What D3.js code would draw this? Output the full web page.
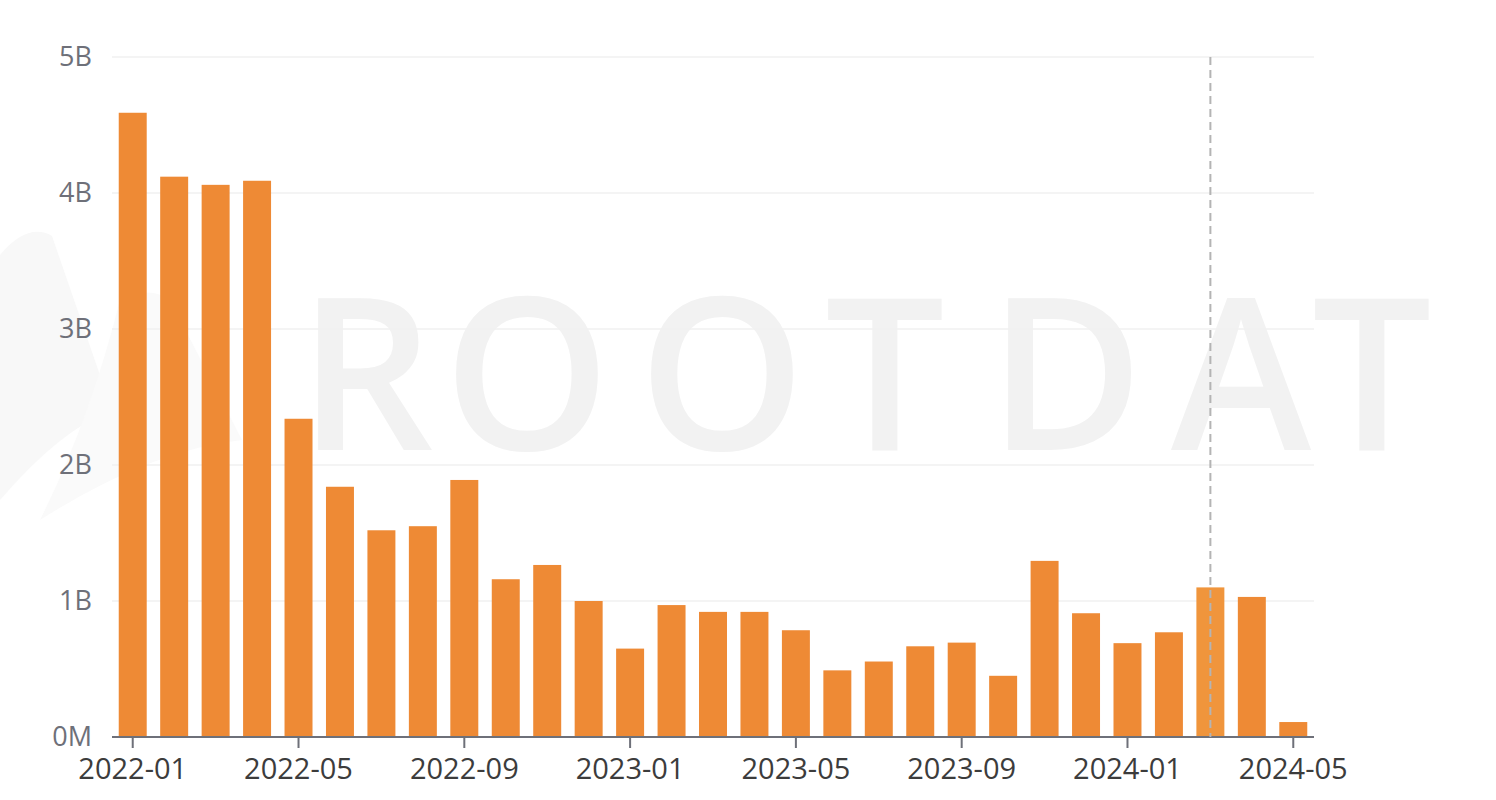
<!DOCTYPE html>
<html>
<head>
<meta charset="utf-8">
<script src="https://cdn.jsdelivr.net/npm/d3@7"></script>
<style>
  html, body { margin: 0; padding: 0; background: #ffffff; }
  svg { display: block; }
</style>
</head>
<body>
<svg id="chart" width="1496" height="800"></svg>
<script>
// ---- data ----
const months = [
  "2022-01","2022-02","2022-03","2022-04","2022-05","2022-06","2022-07","2022-08","2022-09","2022-10","2022-11","2022-12",
  "2023-01","2023-02","2023-03","2023-04","2023-05","2023-06","2023-07","2023-08","2023-09","2023-10","2023-11","2023-12",
  "2024-01","2024-02","2024-03","2024-04","2024-05"
];
const values = [
  4.59e9, 4.12e9, 4.06e9, 4.09e9, 2.34e9, 1.84e9, 1.52e9, 1.55e9, 1.89e9, 1.16e9, 1.265e9, 1.0e9,
  0.65e9, 0.97e9, 0.92e9, 0.92e9, 0.785e9, 0.49e9, 0.555e9, 0.667e9, 0.694e9, 0.45e9, 1.295e9, 0.91e9,
  0.69e9, 0.77e9, 1.10e9, 1.03e9, 0.11e9
];
const yTicks = [0, 1e9, 2e9, 3e9, 4e9, 5e9];
const xTickLabels = ["2022-01","2022-05","2022-09","2023-01","2023-05","2023-09","2024-01","2024-05"];
const highlighted = "2024-03";
const watermarkText = "ROOTDAT";

(function () {
// ---- layout ----
const svg = d3.select("#chart");
const pLeft = 112, pRight = 1314, pTop = 57, pBottom = 737;

const x = d3.scaleBand().domain(months).range([pLeft, pRight]).paddingInner(0.325).paddingOuter(0.1625);
const y = d3.scaleLinear().domain([0, 5e9]).range([pBottom, pTop]);

// watermark logo (faint)
const wm = svg.append("g");
wm.append("path")
  .attr("d", "M0,500 L0,255 Q28,222 52,236 L112,410 Q60,430 0,500 Z")
  .attr("fill", "#f8f8f8");
wm.append("path")
  .attr("d", "M120,300 Q150,285 170,300 L242,440 Q150,450 40,520 Q90,420 120,300 Z")
  .attr("fill", "#fafafa");
// watermark text
const letterCenters = [366, 527, 722, 885, 1066, 1241, 1372];
wm.append("text")
  .attr("x", letterCenters.join(" "))
  .attr("y", 450)
  .attr("text-anchor", "middle")
  .attr("font-family", "'Open Sans', sans-serif")
  .attr("font-weight", 600)
  .attr("font-size", 212)
  .attr("fill", "#f2f2f2")
  .text(watermarkText);

// gridlines
svg.append("g").selectAll("line").data(yTicks.slice(1)).join("line")
  .attr("x1", pLeft).attr("x2", pRight)
  .attr("y1", d => y(d)).attr("y2", d => y(d))
  .attr("stroke", "#f1f1f1").attr("stroke-width", 1.5);

// y labels
svg.append("g").selectAll("text").data(yTicks).join("text")
  .attr("x", 92).attr("y", d => y(d))
  .attr("dy", "0.35em")
  .attr("text-anchor", "end")
  .attr("font-family", "'Open Sans', sans-serif")
  .attr("font-size", 27)
  .attr("fill", "#6e7079")
  .text(d => d === 0 ? "0M" : (d / 1e9) + "B");

// bars
svg.append("g").selectAll("rect").data(months).join("rect")
  .attr("x", d => x(d))
  .attr("width", x.bandwidth())
  .attr("y", (d, i) => y(values[i]))
  .attr("height", (d, i) => y(0) - y(values[i]))
  .attr("fill", d => d === highlighted ? "#f0953c" : "#ee8a35");

// x axis line
svg.append("line")
  .attr("x1", pLeft).attr("x2", pRight)
  .attr("y1", pBottom).attr("y2", pBottom)
  .attr("stroke", "#6e7079").attr("stroke-width", 2);

// ticks + labels
const xt = svg.append("g").selectAll("g").data(xTickLabels).join("g")
  .attr("transform", d => `translate(${x(d) + x.bandwidth() / 2},${pBottom})`);
xt.append("line").attr("y1", 0).attr("y2", 11).attr("stroke", "#6e7079").attr("stroke-width", 2);
xt.append("text")
  .attr("y", 42)
  .attr("text-anchor", "middle")
  .attr("font-family", "'Open Sans', sans-serif")
  .attr("font-size", 29)
  .attr("fill", "#3c3c3c")
  .text(d => d);

// hover indicator line
const hx = x(highlighted) + x.bandwidth() / 2;
svg.append("line")
  .attr("x1", hx).attr("x2", hx)
  .attr("y1", pTop).attr("y2", pBottom)
  .attr("stroke", "#b4b4b4").attr("stroke-width", 2)
  .attr("stroke-dasharray", "8,5");
})();
</script>
</body>
</html>
